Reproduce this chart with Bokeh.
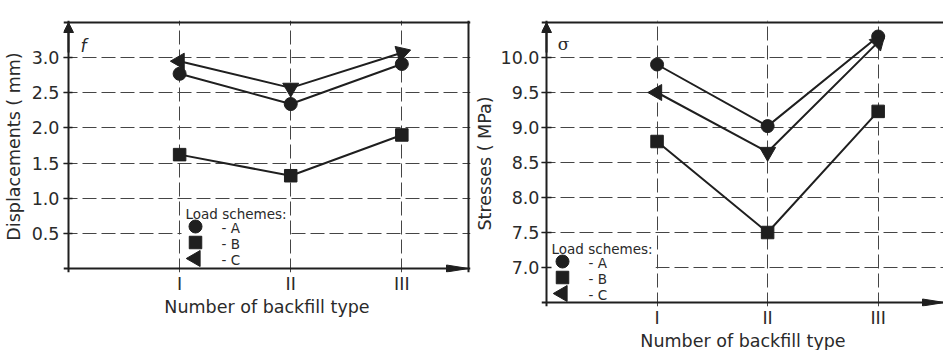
import math
from bokeh.plotting import figure
from bokeh.models import FixedTicker, Label, BoxAnnotation, Span, Arrow, NormalHead
from bokeh.layouts import row
from bokeh.embed import file_html
from bokeh.resources import INLINE

# ---------------- data ----------------
backfill_x = [1, 2, 3]
backfill_labels = ["I", "II", "III"]

disp_A = [2.77, 2.34, 2.91]
disp_B = [1.62, 1.32, 1.90]
disp_C = [2.95, 2.57, 3.07]
disp_ticks = [0.5, 1.0, 1.5, 2.0, 2.5, 3.0]
disp_tick_labels = ["0.5", "1.0", "1.5", "2.0", "2.5", "3.0"]

stress_A = [9.90, 9.02, 10.30]
stress_B = [8.80, 7.50, 9.23]
stress_C = [9.50, 8.65, 10.22]
stress_ticks = [7.0, 7.5, 8.0, 8.5, 9.0, 9.5, 10.0]
stress_tick_labels = ["7.0", "7.5", "8.0", "8.5", "9.0", "9.5", "10.0"]

scheme_labels = ["- A", "- B", "- C"]
legend_title = "Load schemes:"

# orientation of the "C" triangles (pointing along the curve)
tri_angles_a = [math.pi / 2, math.pi, -1.27]
tri_angles_b = [math.pi / 2, math.pi, -0.79]

INK = "#1f1f1f"
TXT = "#2a2a2a"
GRID = "#454545"
FONT = "DejaVu Sans"
PAGE_X0 = 8   # horizontal page margin

MARKERS = [dict(marker="circle", size=13),
           dict(marker="square", size=12.5),
           dict(marker="triangle", size=16)]


class Panel:
    """Geometry of one panel, in page pixels."""

    def __init__(self, fig_left, fig_right, ox, x_end, x_px, oy, y0, y1, y_px,
                 pad_r, fig_h=350, pad_l=5, pad_b=4, pad_t=2):
        self.sx = x_px / x_end
        self.sy = y_px / (y1 - y0)
        self.ox, self.oy = ox, oy
        self.x_range = (0 - pad_l / self.sx, x_end + pad_r / self.sx)
        self.y_range = (y0 - pad_b / self.sy, y1 + pad_t / self.sy)
        self.frame_left = ox - pad_l
        self.frame_right = ox + x_px + pad_r
        self.frame_bottom = oy + pad_b
        self.frame_top = oy - y_px - pad_t
        self.fw = self.frame_right - self.frame_left
        self.fh = self.frame_bottom - self.frame_top
        self.bl = self.frame_left - fig_left
        self.br = fig_right - self.frame_right
        self.bt = self.frame_top
        self.bb = fig_h - self.frame_bottom
        self.x_end = x_end
        self.y0, self.y1 = y0, y1

    # page pixel -> frame screen offset
    def fx(self, px):
        return px - self.frame_left

    def fy(self, py):
        return self.frame_bottom - py

    # page pixel -> data coordinate (for legend swatches)
    def dx(self, px):
        return (px - self.ox) / self.sx

    def dy(self, py):
        return self.y0 + (self.oy - py) / self.sy


def make_panel(g, ya, yb, yc, ticks, tick_labels, ylabel, tri_angles,
               tick_in, lab_standoff, ax_standoff, xl_standoff, xax_standoff):
    p = figure(frame_width=g.fw, frame_height=g.fh, x_range=g.x_range, y_range=g.y_range,
               output_backend="svg", toolbar_location=None,
               min_border_left=g.bl, min_border_right=g.br,
               min_border_top=g.bt, min_border_bottom=g.bb,
               background_fill_color="white", border_fill_color="white")
    p.outline_line_color = None

    xt = FixedTicker(ticks=backfill_x)
    yt = FixedTicker(ticks=ticks)
    p.xaxis.ticker = xt
    p.yaxis.ticker = yt
    p.xgrid.ticker = xt
    p.ygrid.ticker = yt
    p.xaxis.major_label_overrides = dict(zip(backfill_x, backfill_labels))
    p.yaxis.major_label_overrides = dict(zip(ticks, tick_labels))

    for ax in (p.xaxis[0], p.yaxis[0]):
        ax.axis_line_color = None
        ax.major_tick_line_color = INK
        ax.major_tick_line_width = 1.5
        ax.minor_tick_line_color = None
        ax.major_label_text_font = FONT
        ax.major_label_text_font_size = "17.5px"
        ax.major_label_text_color = TXT
        ax.axis_label_text_font = FONT
        ax.axis_label_text_font_size = "17.5px"
        ax.axis_label_text_font_style = "normal"
        ax.axis_label_text_color = TXT
    p.xaxis.major_tick_in = 0
    p.xaxis.major_tick_out = 0
    p.yaxis.major_tick_in = tick_in
    p.yaxis.major_tick_out = 0
    p.yaxis.major_label_standoff = lab_standoff
    p.yaxis.axis_label_standoff = ax_standoff
    p.xaxis.major_label_standoff = xl_standoff
    p.xaxis.axis_label_standoff = xax_standoff
    p.xaxis.axis_label = "Number of backfill type"
    p.yaxis.axis_label = ylabel

    for gr in (p.xgrid[0], p.ygrid[0]):
        gr.grid_line_color = GRID
        gr.grid_line_width = 1
        gr.grid_line_dash = "14 5"

    # axis lines and frame border
    p.add_layout(Span(location=0, dimension="height", line_color=INK, line_width=2))
    p.add_layout(Span(location=g.y0, dimension="width", line_color=INK, line_width=2))
    p.add_layout(Span(location=g.y1, dimension="width", line_color=INK, line_width=2))

    for ys in (ya, yb, yc):
        p.line(backfill_x, ys, line_color=INK, line_width=2)
    p.scatter(backfill_x, ya, fill_color=INK, line_color=INK, **MARKERS[0])
    p.scatter(backfill_x, yb, fill_color=INK, line_color=INK, **MARKERS[1])
    p.scatter(backfill_x, yc, angle=tri_angles, fill_color=INK, line_color=INK,
              **MARKERS[2])

    # axis arrowheads (sizes in pixels, converted with the frame scale)
    ux, uy = 1 / g.sx, 1 / g.sy
    p.add_layout(Arrow(x_start=0, y_start=g.y1 - 30 * uy, x_end=0, y_end=g.y1,
                       line_color=INK, line_width=2,
                       end=NormalHead(size=10, fill_color=INK, line_color=INK,
                                      line_width=1)))
    p.patch([g.x_end, g.x_end - 22 * ux, g.x_end - 22 * ux],
            [g.y0, g.y0 + 3.5 * uy, g.y0 - 3.5 * uy],
            fill_color=INK, line_color=INK, line_width=1)
    return p


def add_text(p, g, px, py, text, align, size="17.5px", font=FONT, style="normal",
             baseline="alphabetic"):
    p.add_layout(Label(x=g.fx(px), y=g.fy(py), x_units="screen", y_units="screen",
                       text=text, text_font=font, text_font_size=size,
                       text_font_style=style, text_color=TXT,
                       text_align=align, text_baseline=baseline))


def add_legend(p, g, box, glyph_cx, row_cy, title_pos, label_x):
    l, r, t, b = box
    p.add_layout(BoxAnnotation(left=g.fx(l), right=g.fx(r), bottom=g.fy(b), top=g.fy(t),
                               left_units="screen", right_units="screen",
                               bottom_units="screen", top_units="screen",
                               fill_color="white", fill_alpha=1, line_color=None,
                               level="underlay"))
    add_text(p, g, title_pos[0], title_pos[1], legend_title, "left", size="13.5px")
    angles = [0, 0, math.pi / 2]
    for lab, mk, cy, ang in zip(scheme_labels, MARKERS, row_cy, angles):
        p.scatter([g.dx(glyph_cx)], [g.dy(cy)], angle=ang,
                  fill_color=INK, line_color=INK, **mk)
        add_text(p, g, label_x, cy + 1, lab, "left", size="13.5px", baseline="middle")


# ---------------- panel (a) ----------------
ga = Panel(fig_left=PAGE_X0, fig_right=474, ox=71, x_end=3.6, x_px=400,
           oy=268, y0=0.0, y1=3.5, y_px=246, pad_r=2)
pa = make_panel(ga, disp_A, disp_B, disp_C, disp_ticks, disp_tick_labels,
                "Displacements ( mm)", tri_angles_a, 9, 4, 5, 1, 0)
pa.add_layout(Span(location=3.6, dimension="height", line_color=INK, line_width=2))
add_legend(pa, ga, (184, 290, 199, 267), 198, [226, 242, 258], (188, 213), 224)
add_text(pa, ga, 62, 26, "( a)", "right")
add_text(pa, ga, 86, 45, "f", "center", size="17px", style="italic")

# ---------------- panel (b) ----------------
gb = Panel(fig_left=474, fig_right=943, ox=545, x_end=3.6, x_px=398,
           oy=302, y0=6.5, y1=10.5, y_px=280, pad_r=0)
pb = make_panel(gb, stress_A, stress_B, stress_C, stress_ticks, stress_tick_labels,
                "Stresses ( MPa)", tri_angles_b, 10, 2, 3, 1, 0)
add_legend(pb, gb, (548, 654, 237, 301), 561, [261, 277, 293], (550, 248), 587)
add_text(pb, gb, 532, 25, "( b)", "right")
add_text(pb, gb, 562, 43, "σ", "center", size="17px", font="DejaVu Serif")

layout = row(pa, pb)
open("out.html", "w").write(file_html(layout, INLINE))
